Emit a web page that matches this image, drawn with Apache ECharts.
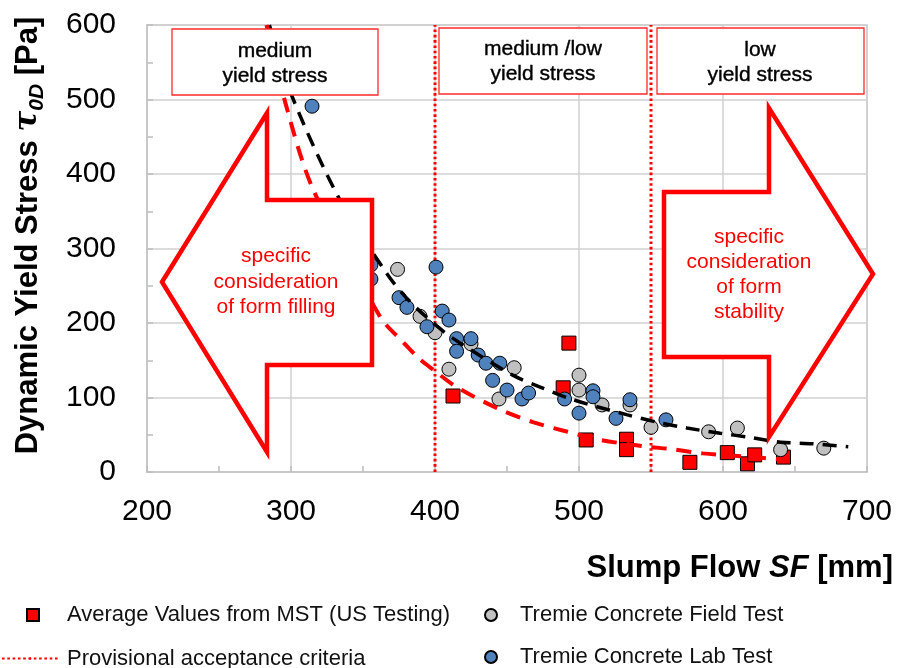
<!DOCTYPE html>
<html>
<head>
<meta charset="utf-8">
<script src="https://cdn.jsdelivr.net/npm/echarts@6/dist/echarts.min.js"></script>
<style>
  html, body { margin: 0; padding: 0; background: #fff; }
  #chart { width: 899px; height: 668px; }
</style>
</head>
<body>
<div id="chart"></div>
<script>
// Slump flow SF [mm] vs dynamic yield stress [Pa]

const xTicks = { min: 200, max: 700, step: 100 };
const yTicks = { min: 0, max: 600, step: 100 };

// Average values from MST (US testing)
const mstPoints = [
  [412.5, 102], [493, 173], [489, 113], [505, 43], [533, 44], [533, 30],
  [577, 13], [603, 26], [617, 11], [622, 23], [642, 20]
];

// Tremie concrete, field test
const fieldPoints = [
  [374, 272], [389.6, 209], [400, 187], [409.7, 138], [425, 172], [444.4, 98],
  [455, 140], [500, 130], [500, 110], [516, 90], [535.4, 90], [550, 60],
  [590, 54], [610, 59], [640, 30], [670, 32]
];

// Tremie concrete, lab test
const labPoints = [
  [314.6, 491], [355.5, 278], [355.5, 259], [375, 234], [380.5, 221], [394.4, 195],
  [400.7, 275], [405, 216], [409.7, 204], [415, 179], [415, 162], [425, 179],
  [430, 157], [435.4, 146], [445, 146], [440, 123], [450, 110], [460.4, 98],
  [465, 106], [490, 98], [500, 79], [509.7, 109], [509.7, 101], [525.7, 72],
  [535.4, 97], [560.4, 70]
];

// Trend curve through all test data (black dashed)
const trendAll = [
  [285, 600], [301, 503], [334, 365], [367, 265], [380, 234], [394, 208],
  [412, 180], [454, 130], [473, 114], [496, 97], [533, 77], [554, 67],
  [575, 59], [598, 52], [617, 47], [640, 40], [662, 38], [687, 34]
];

// Trend curve through the MST averages (red dashed)
const trendMst = [
  [283, 600], [295, 503], [315, 381], [362, 208], [378, 174], [389, 152],
  [399, 137], [415, 114], [445, 84], [468, 67], [492, 54], [515, 43],
  [547, 34], [563, 31], [586, 25], [621, 20], [644, 16]
];

// Provisional acceptance criteria (slump flow limits)
const criteriaSF = [400, 550];

const zoneLabels = ['medium\nyield stress', 'medium /low\nyield stress', 'low\nyield stress'];
const arrowLabels = ['specific\nconsideration\nof form filling', 'specific\nconsideration\nof form\nstability'];

const names = {
  mst: 'Average Values from MST (US Testing)',
  crit: 'Provisional acceptance criteria',
  field: 'Tremie Concrete Field Test',
  lab: 'Tremie Concrete Lab Test'
};

const FONT = '"Liberation Sans", Arial, Helvetica, sans-serif';
const RED = '#ff0000';
const GRID_GRAY = '#d0d0d0';

const chart = echarts.init(document.getElementById('chart'), null, { renderer: 'canvas' });

const axisCommon = {
  axisLine: { show: true, lineStyle: { color: '#c4c4c4', width: 1.5 } },
  axisTick: { show: true, inside: true, length: 6, lineStyle: { color: '#bdbdbd', width: 1.5 } },
  minorTick: { show: true, splitNumber: 2, length: 6, lineStyle: { color: '#bdbdbd', width: 1.5 } },
  splitLine: { show: true, lineStyle: { color: GRID_GRAY, width: 1.5 } },
  axisLabel: { color: '#000', fontFamily: FONT, fontSize: 30 }
};

const criteriaSeries = criteriaSF.map(sf => ({
  type: 'line',
  name: names.crit,
  data: [[sf, yTicks.min], [sf, yTicks.max]],
  symbol: 'none',
  silent: true,
  z: 1,
  itemStyle: { color: RED },
  lineStyle: { color: RED, width: 3, type: [2.6, 2.7] }
}));

const legendText = { color: '#111', fontFamily: FONT, fontSize: 22 };

chart.setOption({
  backgroundColor: '#fff',
  animation: false,
  grid: {
    left: 147, right: 32, top: 25, bottom: 196,
    containLabel: false,
    outerBoundsMode: 'none',
    show: true, borderColor: '#c4c4c4', borderWidth: 1.5
  },
  xAxis: Object.assign({}, axisCommon, {
    type: 'value',
    min: xTicks.min, max: xTicks.max, interval: xTicks.step,
    axisLabel: Object.assign({}, axisCommon.axisLabel, { margin: 25 }),
    name: 'Slump Flow {i|SF} [mm]',
    nameLocation: 'end',
    nameGap: 26,
    nameTextStyle: {
      color: '#000', fontFamily: FONT, fontSize: 31, fontWeight: 'bold',
      align: 'right', verticalAlign: 'top', padding: [81, 0, 0, 0],
      rich: { i: { fontFamily: FONT, fontSize: 31, fontWeight: 'bold', fontStyle: 'italic', color: '#000' } }
    }
  }),
  yAxis: Object.assign({}, axisCommon, {
    type: 'value',
    min: yTicks.min, max: yTicks.max, interval: yTicks.step,
    axisLabel: Object.assign({}, axisCommon.axisLabel, { margin: 31 }),
    name: 'Dynamic Yield Stress {t|τ}{s|0D} [Pa]',
    nameLocation: 'middle',
    nameRotate: 90,
    nameGap: 99,
    nameTextStyle: {
      color: '#000', fontFamily: FONT, fontSize: 31, fontWeight: 'bold', lineHeight: 40,
      padding: [0, 0, 0, 26],
      rich: {
        t: { fontFamily: '"DejaVu Serif", serif', fontSize: 31, fontWeight: 'bold', fontStyle: 'italic', color: '#000', lineHeight: 40 },
        s: { fontFamily: FONT, fontSize: 21, fontWeight: 'bold', fontStyle: 'italic', color: '#000', lineHeight: 21, verticalAlign: 'bottom' }
      }
    }
  }),
  legend: [
    { data: [names.mst], left: 26, top: 604, padding: 0, itemWidth: 12, itemHeight: 12, selectedMode: false,
      textStyle: Object.assign({}, legendText, { padding: [0, 0, 0, 23] }) },
    { data: [names.crit], left: 1, top: 647.5, padding: 0, itemWidth: 56, itemHeight: 3, selectedMode: false,
      textStyle: Object.assign({}, legendText, { padding: [0, 0, 0, 4] }) },
    { data: [names.field], left: 484, top: 604, padding: 0, itemWidth: 12, itemHeight: 12, selectedMode: false,
      textStyle: Object.assign({}, legendText, { padding: [0, 0, 0, 18] }) },
    { data: [names.lab], left: 484, top: 646, padding: 0, itemWidth: 12, itemHeight: 12, selectedMode: false,
      textStyle: Object.assign({}, legendText, { padding: [0, 0, 0, 18] }) }
  ],
  series: criteriaSeries.concat([
    {
      type: 'scatter', name: names.mst, data: mstPoints,
      symbol: 'rect', symbolSize: 14, z: 2,
      itemStyle: { color: RED, borderColor: '#000', borderWidth: 1, opacity: 1 }
    },
    {
      type: 'scatter', name: names.field, data: fieldPoints,
      symbol: 'circle', symbolSize: 14, z: 3,
      itemStyle: { color: '#c0c0c0', borderColor: '#000', borderWidth: 1, opacity: 1 }
    },
    {
      type: 'scatter', name: names.lab, data: labPoints,
      symbol: 'circle', symbolSize: 14, z: 4,
      itemStyle: { color: '#4f81bd', borderColor: '#000', borderWidth: 1, opacity: 1 }
    },
    {
      type: 'line', name: 'trend all', data: trendAll, smooth: 0.3,
      symbol: 'none', silent: true, z: 6, clip: true,
      lineStyle: { color: '#000', width: 3.5, type: [14, 9] }
    },
    {
      type: 'line', name: 'trend MST', data: trendMst, smooth: 0.3,
      symbol: 'none', silent: true, z: 6, clip: true,
      lineStyle: { color: RED, width: 4, type: [15, 10] }
    }
  ]),
  graphic: [
    // zone header boxes
    { type: 'rect', z: 100, shape: { x: 172, y: 29, width: 206, height: 66 },
      style: { fill: '#fff', stroke: '#ff2a2a', lineWidth: 1.3 } },
    { type: 'rect', z: 100, shape: { x: 439, y: 28, width: 208, height: 66 },
      style: { fill: '#fff', stroke: '#ff2a2a', lineWidth: 1.3 } },
    { type: 'rect', z: 100, shape: { x: 657, y: 28, width: 207, height: 66 },
      style: { fill: '#fff', stroke: '#ff2a2a', lineWidth: 1.3 } },
    { type: 'text', z: 101, x: 275, y: 64,
      style: { text: zoneLabels[0], font: '21px ' + FONT, fill: '#000', align: 'center', verticalAlign: 'middle', lineHeight: 25, stroke: '#000', lineWidth: 0.4 } },
    { type: 'text', z: 101, x: 543, y: 62,
      style: { text: zoneLabels[1], font: '21px ' + FONT, fill: '#000', align: 'center', verticalAlign: 'middle', lineHeight: 25, stroke: '#000', lineWidth: 0.4 } },
    { type: 'text', z: 101, x: 760, y: 63,
      style: { text: zoneLabels[2], font: '21px ' + FONT, fill: '#000', align: 'center', verticalAlign: 'middle', lineHeight: 25, stroke: '#000', lineWidth: 0.4 } },
    // block arrows
    { type: 'polygon', z: 100,
      shape: { points: [[162, 282], [267, 113], [267, 200], [372, 200], [372, 365], [267, 365], [267, 452]] },
      style: { fill: '#fff', stroke: RED, lineWidth: 4.5, lineJoin: 'miter' } },
    { type: 'polygon', z: 100,
      shape: { points: [[664, 192], [769, 192], [769, 108], [873, 274], [769, 437], [769, 357], [664, 357]] },
      style: { fill: '#fff', stroke: RED, lineWidth: 4.5, lineJoin: 'miter' } },
    { type: 'text', z: 101, x: 276, y: 282,
      style: { text: arrowLabels[0], font: '21px ' + FONT, fill: RED, align: 'center', verticalAlign: 'middle', lineHeight: 25.5 } },
    { type: 'text', z: 101, x: 749, y: 275,
      style: { text: arrowLabels[1], font: '21px ' + FONT, fill: RED, align: 'center', verticalAlign: 'middle', lineHeight: 25 } }
  ]
});
</script>
</body>
</html>
